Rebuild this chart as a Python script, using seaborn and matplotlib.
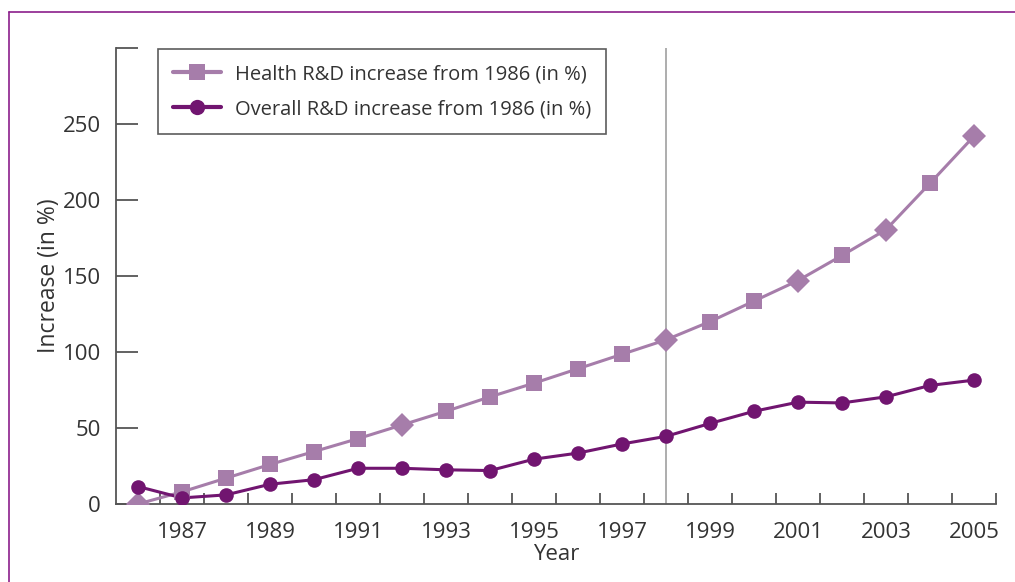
import numpy as np
import pandas as pd
import matplotlib
matplotlib.use("Agg")
import matplotlib.pyplot as plt
from matplotlib.lines import Line2D
from matplotlib.ticker import FixedLocator
import seaborn as sns

years = list(range(1986, 2006))
health = [0, 8, 17, 26, 34.5, 43, 52, 61, 70.5, 79.5, 89, 98.5, 108, 120, 133.5,
          147, 163.5, 180.5, 211, 242]
overall = [11.5, 4, 6, 13, 16, 23.5, 23.5, 22.5, 22, 29.5, 33.5, 39.5, 44.5, 53,
           61, 67, 66.5, 70.5, 78, 81.5]
health_marker = ["D", "s", "s", "s", "s", "s", "D", "s", "s", "s", "s", "s", "D",
                 "s", "s", "D", "s", "D", "s", "D"]
series_labels = ["Health R&D increase from 1986 (in %)",
                 "Overall R&D increase from 1986 (in %)"]
year_labels = [str(y) for y in range(1987, 2006, 2)]
y_ticks = [0, 50, 100, 150, 200, 250, 300]
y_labels = ["0", "50", "100", "150", "200", "250", ""]
marker_year = 1998

c_health = "#a67daa"
c_overall = "#711570"
c_text = "#333333"
c_axis = "#555555"
c_frame = "#8b1f8b"

sns.set_theme(style="white")
plt.rcParams["font.family"] = ["Open Sans", "DejaVu Sans"]

df = pd.DataFrame({"year": years, "health": health, "overall": overall,
                   "hm": health_marker})

fig = plt.figure(figsize=(10.15, 5.82), dpi=100)
ax = fig.add_axes([116 / 1015, 78 / 582, 880 / 1015, 456 / 582])

ax.axvline(marker_year, color="#a0a0a0", lw=1.2, zorder=1)

sns.lineplot(data=df, x="year", y="health", color=c_health, lw=2.2, ax=ax,
             zorder=2, legend=False)
sns.lineplot(data=df, x="year", y="overall", color=c_overall, lw=2.2, ax=ax,
             zorder=2, legend=False)
sq = df[df.hm == "s"]
dm = df[df.hm == "D"]
ax.plot(sq["year"], sq["health"], ls="none", marker="s", ms=11, color=c_health,
        mew=0, zorder=3)
ax.plot(dm["year"], dm["health"], ls="none", marker="D", ms=12.5, color=c_health,
        mew=0, zorder=3)
ax.plot(df["year"], df["overall"], ls="none", marker="o", ms=10.5, color=c_overall,
        mew=0, zorder=4)

ax.set_xlim(1985.5, 2005.5)
ax.set_ylim(0, 300)

ax.xaxis.set_major_locator(FixedLocator(list(range(1987, 2006, 2))))
ax.set_xticklabels(year_labels)
ax.xaxis.set_minor_locator(FixedLocator([y + 0.5 for y in range(1986, 2006)]))
ax.tick_params(axis="x", which="major", length=0, pad=13, labelsize=16,
               labelcolor=c_text)
ax.tick_params(axis="x", which="minor", direction="in", length=8, width=1.3,
               color=c_axis, bottom=True)

ax.set_yticks(y_ticks)
ax.set_yticklabels(y_labels)
ax.tick_params(axis="y", which="major", direction="in", length=16, width=1.3,
               color=c_axis, pad=11, labelsize=16, labelcolor=c_text, left=True)

for s in ["top", "right"]:
    ax.spines[s].set_visible(False)
for s in ["left", "bottom"]:
    ax.spines[s].set_color(c_axis)
    ax.spines[s].set_linewidth(1.3)

ax.set_xlabel("Year", fontsize=16, color=c_text, labelpad=1)
ax.set_ylabel("Increase (in %)", fontsize=16.5, color=c_text, labelpad=1)

handles = [
    Line2D([], [], color=c_health, lw=3, marker="s", ms=11, mew=0),
    Line2D([], [], color=c_overall, lw=3, marker="o", ms=11, mew=0),
]
leg = ax.legend(handles, series_labels, loc="upper left",
                bbox_to_anchor=(42 / 880, 1.0 - 1 / 456), frameon=True,
                fancybox=False, edgecolor="#333333", fontsize=14.5,
                handlelength=2.4, handletextpad=0.65, labelspacing=0.75,
                borderpad=0.75, borderaxespad=0)
leg.get_frame().set_linewidth(1.2)
for t in leg.get_texts():
    t.set_color(c_text)

fx = 9 / 1015
fy = 1 - 12 / 582
fig.add_artist(Line2D([fx, 1.0], [fy, fy], transform=fig.transFigure,
                      color=c_frame, lw=1.2))
fig.add_artist(Line2D([fx, fx], [0.0, fy], transform=fig.transFigure,
                      color=c_frame, lw=1.2))

fig.savefig("out.png", dpi=100)
